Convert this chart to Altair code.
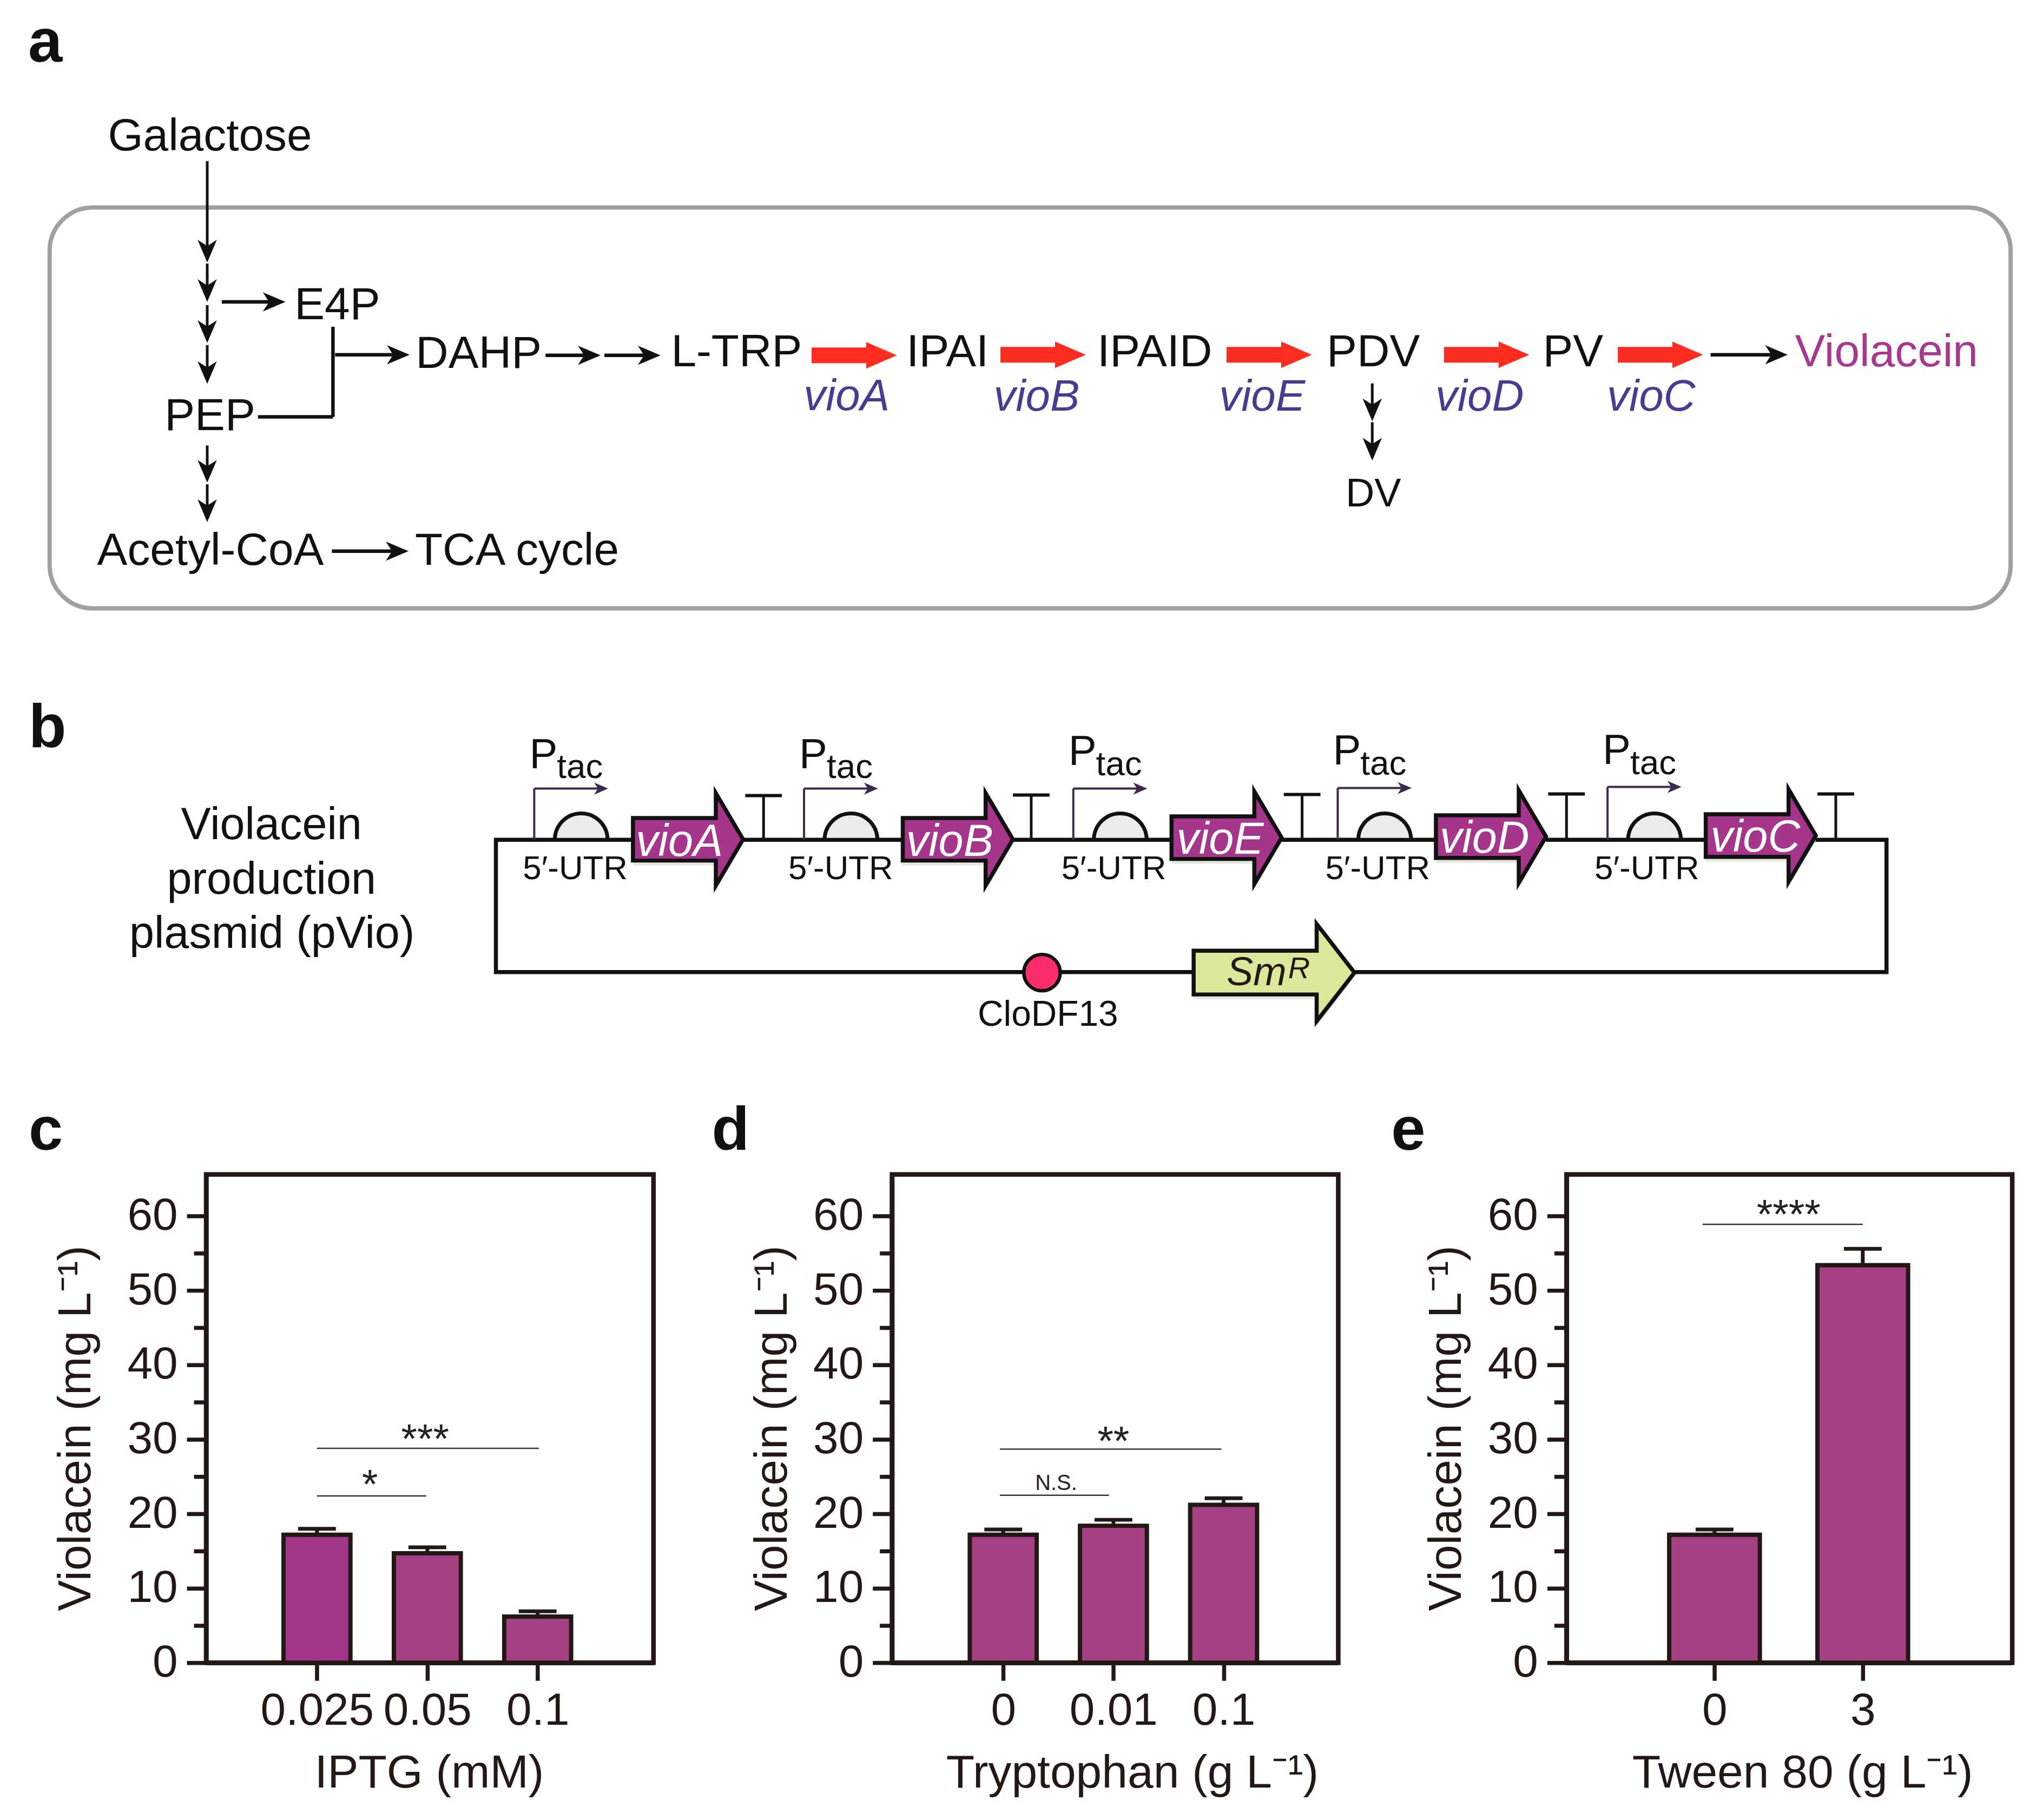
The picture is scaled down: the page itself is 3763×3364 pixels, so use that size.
import altair as alt
import pandas as pd

FONT = "Liberation Sans"
INK = "#231815"

# ---------- panel a ----------
a_labels = ["Galactose", "E4P", "DAHP", "L-TRP", "IPAI", "IPAID", "PDV", "PV", "PEP", "Acetyl-CoA", "TCA cycle"]
a_label_x = [384, 620, 882, 1360, 1751, 2135, 2540, 2910, 384, 385, 953]
a_label_y = [269, 582, 672, 669, 669, 669, 669, 669, 788, 1037, 1037]
gene_names = ["vioA", "vioB", "vioE", "vioD", "vioC"]
gene_label_x = [1564, 1916, 2334, 2737, 3055]
gene_label_y = [751, 752, 752, 752, 752]
red_arrow_x = [1578, 1928, 2347, 2750, 3072]
red_arrow_y = [649, 648, 648, 648, 648]

right_x1 = [406, 616, 1006, 1115, 610, 3165]
right_x2 = [521, 751, 1105, 1216, 749, 3305]
right_y = [550, 648, 649, 649, 1012, 648]
down_x = [379, 379, 379, 379, 379, 379, 2538, 2538]
down_y1 = [289, 479, 556, 630, 816, 888, 701, 773]
down_y2 = [476, 549, 625, 701, 884, 957, 770, 843]
branch_x1 = [612, 473]
branch_x2 = [612, 612]
branch_y1 = [596, 763]
branch_y2 = [763, 763]

# ---------- panel b ----------
promoter_x = [985, 1485, 1984, 2474, 2974]
promoter_top = [1452, 1452, 1452, 1451, 1449]
p_base = [1414, 1414, 1408, 1407, 1406]
tac_base = [1432, 1432, 1427, 1426, 1425]
utr_x = [1072, 1572, 2071, 2561, 3061]
utr_label_x = [1061, 1553, 2059, 2548, 3047]
utr_label_y = [1620, 1620, 1620, 1620, 1620]
gene_x = [1270, 1770, 2268, 2758, 3258]
gene_y = [1546, 1546, 1543, 1541, 1539]
gene_text_x = [1254, 1755, 2256, 2746, 3248]
gene_text_y = [1577, 1577, 1573, 1571, 1569]
term_x = [1410, 1906, 2408, 2898, 3397]
term_y = [1465, 1464, 1463, 1462, 1462]
plasmid_lines = ["Violacein", "production", "plasmid (pVio)"]
plasmid_y = [1546, 1647, 1747]

# ---------- panels c, d, e ----------
c_labels = ["0.025", "0.05", "0.1"]
c_vals = [17.2, 14.7, 6.2]
c_errs = [18.0, 15.5, 6.9]
c_cols = ["#A23689", "#A54083", "#A54083"]
d_labels = ["0", "0.01", "0.1"]
d_vals = [17.2, 18.4, 21.2]
d_errs = [17.9, 19.2, 22.1]
e_labels = ["0", "3"]
e_vals = [17.2, 53.4]
e_errs = [17.9, 55.6]
bar_col = "#A54083"

PX = alt.X("x:Q", scale=alt.Scale(domain=[377, 3755], nice=False, zero=False), axis=None)
PY = alt.Y("y:Q", scale=alt.Scale(domain=[2100, 100], nice=False, zero=False), axis=None)


def text_layer(labels, xs, ys, size, color=INK, italic=False, bold=False, align="center"):
    df = pd.DataFrame({"t": labels, "x": xs, "y": ys})
    return alt.Chart(df).mark_text(font=FONT, fontSize=size, color=color, align=align, baseline="alphabetic",
                                   fontStyle="italic" if italic else "normal",
                                   fontWeight="bold" if bold else "normal").encode(x=PX, y=PY, text="t:N")


def rules(x1, y1, x2, y2, width, color="#111111"):
    df = pd.DataFrame({"x": x1, "y": y1, "x2": x2, "y2": y2})
    return alt.Chart(df).mark_rule(strokeWidth=width, color=color).encode(x=PX, y=PY, x2="x2:Q", y2="y2:Q")


def shapes(xs, ys, path, span, fill, stroke=None, sw=0):
    df = pd.DataFrame({"x": xs, "y": ys})
    kw = dict(shape=path, size=span * span, filled=True, fill=fill, opacity=1)
    if stroke:
        kw.update(stroke=stroke, strokeWidth=sw, strokeJoin="miter")
    else:
        kw.update(strokeWidth=0)
    return alt.Chart(df).mark_point(**kw).encode(x=PX, y=PY)


HEAD_R = "M1,0 L-1,-0.85 L-0.45,0 L-1,0.85 Z"
HEAD_D = "M0,1 L-0.85,-1 L0,-0.45 L0.85,-1 Z"
RED = "M-1,-0.184 L0.28,-0.184 L0.28,-0.31 L1,0 L0.28,0.31 L0.28,0.184 L-1,0.184 Z"
GENE = "M-1,-0.386 L0.505,-0.386 L0.505,-0.84 L1,0 L0.505,0.84 L0.505,0.386 L-1,0.386 Z"
SMR = "M-1,-0.272 L0.53,-0.272 L0.53,-0.605 L1,0 L0.53,0.605 L0.53,0.272 L-1,0.272 Z"
DOME = "M-1,0 A1,1 0 0 1 1,0 Z"

anchor = alt.Chart(pd.DataFrame({"x": [8], "y": [8], "x2": [3755], "y2": [3354]})).mark_rule(opacity=0).encode(
    x=PX, y=PY, x2="x2:Q", y2="y2:Q")

cell = alt.Chart(pd.DataFrame({"x": [87], "y": [375], "x2": [3721], "y2": [1118]})).mark_rect(
    fillOpacity=0, stroke="#A0A0A0", strokeWidth=8, cornerRadius=80).encode(x=PX, y=PY, x2="x2:Q", y2="y2:Q")
plasmid = alt.Chart(pd.DataFrame({"x": [914], "y": [1547], "x2": [3491], "y2": [1792]})).mark_rect(
    fillOpacity=0, stroke="#111111", strokeWidth=7.5).encode(x=PX, y=PY, x2="x2:Q", y2="y2:Q")

layers = [anchor, cell, plasmid]
# panel letters
layers.append(text_layer(["a", "b", "c", "d", "e"], [47, 48, 48, 1314, 2573], [105, 1375, 2121, 2121, 2121], 114,
                         color="#111111", bold=True, align="left"))
# panel a
layers.append(text_layer(a_labels, a_label_x, a_label_y, 84, color="#111111"))
layers.append(text_layer(["DV"], [2540], [929], 74, color="#111111"))
layers.append(text_layer(["Violacein"], [3491], [669], 84, color="#A8388F"))
layers.append(text_layer(gene_names, gene_label_x, gene_label_y, 82, color="#4B3A92", italic=True))
layers.append(rules(right_x1, right_y, [v - 18 for v in right_x2], right_y, 6.5))
layers.append(shapes([v - 18 for v in right_x2], right_y, HEAD_R, 42, "#111111"))
layers.append(rules(down_x, down_y1, down_x, [v - 18 for v in down_y2], 5))
layers.append(shapes(down_x, [v - 20 for v in down_y2], HEAD_D, 42, "#111111"))
layers.append(rules(branch_x1, branch_y1, branch_x2, branch_y2, 6.5))
layers.append(shapes(red_arrow_x, red_arrow_y, RED, 158, "#FF2D20"))
# panel b
layers.append(text_layer(plasmid_lines, [498, 498, 499], plasmid_y, 83, color="#111111"))
layers.append(rules(promoter_x, promoter_top, promoter_x, [1547] * 5, 4, "#3B2A4A"))
layers.append(rules(promoter_x, promoter_top, [v + 125 for v in promoter_x], promoter_top, 4, "#3B2A4A"))
layers.append(shapes([v + 124 for v in promoter_x], promoter_top, HEAD_R, 26, "#3B2A4A"))
layers.append(text_layer(["P"] * 5, [v - 9 for v in promoter_x], p_base, 78, color="#111111", align="left"))
layers.append(text_layer(["tac"] * 5, [v + 42 for v in promoter_x], tac_base, 64, color="#111111", align="left"))
layers.append(shapes(utr_x, [1547] * 5, DOME, 98, "#EBEBEB", "#111111", 7))
layers.append(shapes(gene_x, [v + 9 for v in gene_y], GENE, 204, "#EAE4DE"))
layers.append(text_layer(["5\u2032-UTR"] * 5, utr_label_x, utr_label_y, 62, color="#111111"))
layers.append(rules(term_x, term_y, term_x, [1547] * 5, 5))
layers.append(rules([v - 34 for v in term_x], term_y, [v + 34 for v in term_x], term_y, 6))
layers.append(shapes(gene_x, gene_y, GENE, 204, "#A5368C", "#111111", 7.5))
layers.append(text_layer(gene_names, gene_text_x, gene_text_y, 83, color="#FFFFFF", italic=True))
layers.append(alt.Chart(pd.DataFrame({"x": [1926], "y": [1793]})).mark_point(
    shape="circle", size=4536, filled=True, fill="#FF2D6C", stroke="#111111", strokeWidth=6.5, opacity=1).encode(x=PX, y=PY))
layers.append(text_layer(["CloDF13"], [1937], [1892], 66, color="#111111"))
layers.append(shapes([2356], [1802], SMR, 298, "#EAE4DE"))
layers.append(shapes([2356], [1793], SMR, 298, "#DBE89A", "#111111", 7.5))
layers.append(text_layer(["Sm"], [2268], [1816], 74, italic=True, align="left"))
layers.append(text_layer(["R"], [2382], [1803], 56, italic=True, align="left"))

diagram = alt.layer(*layers).properties(width=3378, height=2000, view=alt.ViewConfig(stroke="transparent"))


def panel(labels, vals, errs, cols, xdom, width, barw, title, tx, ytx, sig_rules, sig_texts):
    n = len(labels)
    pos = list(range(1, n + 1))
    df = pd.DataFrame({"pos": pos, "val": vals, "col": cols, "base": [0] * n, "err": errs})
    cap_df = pd.DataFrame({"pos": pos, "val": errs})
    label_js = "[" + ",".join("'%s'" % s for s in labels) + "]"
    X = alt.X("pos:Q", scale=alt.Scale(domain=xdom, nice=False, zero=False),
              axis=alt.Axis(values=pos, labelExpr=label_js + "[datum.value-1]", title=title, grid=False,
                            tickSize=33, labelPadding=16, titleX=tx, titleY=231, titleBaseline="alphabetic",
                            titleAlign="center", labelOverlap=False, labelFlush=False, labelLimit=0))
    Y = alt.Y("val:Q", scale=alt.Scale(domain=[0, 65.6], nice=False),
              axis=alt.Axis(values=list(range(0, 61, 5)), title="Violacein (mg L\u207B\u00B9)", grid=False,
                            labelExpr="datum.value % 10 === 0 ? datum.label : ''",
                            tickSize={"condition": {"test": "datum.value % 10 === 0", "value": 36}, "value": 23},
                            labelPadding=17, titleX=ytx, titleY=470, titleBaseline="alphabetic",
                            titleAlign="center", labelOverlap=False, labelFlush=False, labelLimit=0))
    err = alt.Chart(df).mark_rule(strokeWidth=7, color=INK).encode(x=X, y=Y, y2="err:Q")
    cap = alt.Chart(cap_df).mark_tick(orient="horizontal", size=70, thickness=7, color=INK, opacity=1).encode(x=X, y=Y)
    bar = alt.Chart(df).mark_bar(size=barw, stroke=INK, strokeWidth=8, orient="vertical", opacity=1).encode(
        x=X, y=Y, y2="base:Q", fill=alt.Fill("col:N", scale=None, legend=None))
    r_df = pd.DataFrame(sig_rules, columns=["pos", "x2", "val"])
    sig = alt.Chart(r_df).mark_rule(strokeWidth=2.5, color="#333333").encode(x=X, x2="x2:Q", y=Y)
    parts = [err, cap, bar, sig]
    for t, p, v, fs in sig_texts:
        t_df = pd.DataFrame({"pos": [p], "val": [v], "t": [t]})
        parts.append(alt.Chart(t_df).mark_text(font=FONT, fontSize=fs, color="#222222", align="center",
                                               baseline="alphabetic").encode(x=X, y=Y, text="t:N"))
    return alt.layer(*parts).properties(width=width, height=905)


c = panel(c_labels, c_vals, c_errs, c_cols, [0.02, 4.025], 829, 124, "IPTG (mM)", 413, -215,
          [(1, 3.01, 28.8), (1, 1.99, 22.4)], [("***", 1.98, 28.2, 76), ("*", 1.48, 22.1, 76)])
d = panel(d_labels, d_vals, d_errs, [bar_col] * 3, [0.015, 4.016], 827, 124, "Tryptophan (g L\u207B\u00B9)", 445, -196,
          [(0.97, 2.98, 28.7), (0.97, 1.96, 22.5)], [("**", 2.0, 27.9, 76), ("N.S.", 1.48, 23.2, 40)])
e = panel(e_labels, e_vals, e_errs, [bar_col] * 2, [0.02, 2.99], 826, 168, "Tween 80 (g L\u207B\u00B9)", 437, -196,
          [(0.92, 2.0, 58.9)], [("****", 1.5, 58.4, 76)])


def spacer(w):
    return alt.Chart(pd.DataFrame({"a": [0]})).mark_point(opacity=0).encode(
        x=alt.value(0), y=alt.value(0)).properties(width=w, height=905, view=alt.ViewConfig(stroke="transparent"))


row = alt.hconcat(c, spacer(442), d, spacer(423), e, spacing=0, bounds="flush")
chart = alt.vconcat(diagram, row, spacing=67, bounds="flush").properties(padding=0).configure_view(
    stroke=INK, strokeWidth=8.5
).configure_axis(
    labelFont=FONT, titleFont=FONT, labelFontSize=84, titleFontSize=86, labelColor=INK, titleColor=INK,
    titleFontWeight="normal", domainColor=INK, tickColor=INK, domainWidth=8.5, tickWidth=7.5
)
chart.save("out.html", embed_options={"renderer": "svg", "actions": False})
